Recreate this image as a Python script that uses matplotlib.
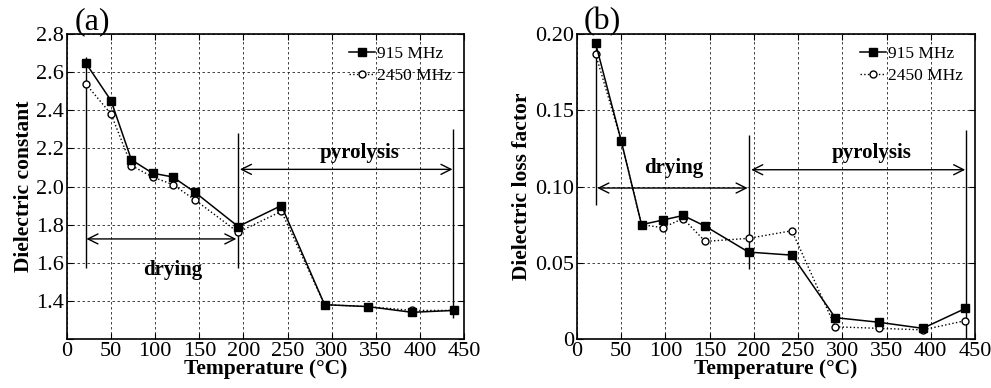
import numpy as np
import matplotlib
matplotlib.use("Agg")
import matplotlib.pyplot as plt

plt.rcParams['font.family'] = ['Liberation Serif', 'DejaVu Serif']
plt.rcParams['mathtext.fontset'] = 'stix'

# temperatures (deg C)
temp = [21, 50, 73, 97, 120, 145, 194, 243, 292, 341, 391, 439]

# (a) dielectric constant
eps_915 = [2.65, 2.45, 2.14, 2.07, 2.05, 1.97, 1.79, 1.90, 1.38, 1.37, 1.34, 1.35]
eps_2450 = [2.54, 2.38, 2.11, 2.05, 2.01, 1.93, 1.76, 1.87, 1.38, 1.37, 1.35, 1.35]

# (b) dielectric loss factor
loss_915 = [0.194, 0.130, 0.075, 0.078, 0.081, 0.074, 0.057, 0.055, 0.014, 0.011, 0.007, 0.020]
loss_2450 = [0.187, 0.130, 0.075, 0.073, 0.079, 0.064, 0.066, 0.071, 0.008, 0.007, 0.006, 0.012]

xticks = [0, 50, 100, 150, 200, 250, 300, 350, 400, 450]

fig = plt.figure(figsize=(9.91, 3.88), dpi=100)
ax1 = fig.add_axes([0.0676, 0.1263, 0.4006, 0.786])
ax2 = fig.add_axes([0.5822, 0.1263, 0.4016, 0.786])


def style(ax):
    ax.set_xlim(0, 450)
    ax.set_xticks(xticks)
    ax.grid(True, color='#222222', linestyle=(0, (3, 3)), linewidth=0.6)
    ax.tick_params(direction='in', top=True, right=True, labelsize=16, length=4, pad=2)
    for s in ax.spines.values():
        s.set_linewidth(1.2)
    ax.set_xlabel('Temperature (°C)', fontsize=15.5, fontweight='bold', labelpad=-1)


def series(ax, y1, y2):
    ax.plot(temp, y1, '-', color='black', lw=1.1, marker='s', ms=6,
            mfc='black', mec='black', label='915 MHz', zorder=4)
    ax.plot(temp, y2, ':', color='black', lw=1.0, marker='o', ms=5,
            mfc='white', mec='black', label='2450 MHz', zorder=3)
    ax.legend(loc='upper right', frameon=False, fontsize=12.5,
              handlelength=1.5, handletextpad=0.1, labelspacing=0.3,
              borderaxespad=0.3)


def span(ax, x0, x1, y, text, tx, ty):
    ax.annotate('', xy=(x0, y), xytext=(x1, y),
                arrowprops=dict(arrowstyle='<->', color='black', lw=1.0,
                                mutation_scale=18, shrinkA=0, shrinkB=0))
    ax.text(tx, ty, text, ha='center', va='center', fontsize=15, fontweight='bold')


# panel (a)
style(ax1)
series(ax1, eps_915, eps_2450)
ax1.set_ylim(1.2, 2.8)
ax1.set_yticks([1.2, 1.4, 1.6, 1.8, 2.0, 2.2, 2.4, 2.6, 2.8])
ax1.set_yticklabels(['', '1.4', '1.6', '1.8', '2.0', '2.2', '2.4', '2.6', '2.8'])
ax1.set_ylabel('Dielectric constant', fontsize=15.5, fontweight='bold', labelpad=2)
ax1.vlines([21], 1.57, 2.68, color='black', lw=1.0)
ax1.vlines([194], 1.57, 2.28, color='black', lw=1.0)
ax1.vlines([438], 1.31, 2.30, color='black', lw=1.0)
span(ax1, 22, 192, 1.725, 'drying', 120, 1.56)
span(ax1, 196, 437, 2.09, 'pyrolysis', 332, 2.175)
fig.text(0.093, 0.945, '(a)', fontsize=23, ha='center', va='center')

# panel (b)
style(ax2)
series(ax2, loss_915, loss_2450)
ax2.set_ylim(0, 0.2)
ax2.set_yticks([0, 0.05, 0.10, 0.15, 0.20])
ax2.set_yticklabels(['0', '0.05', '0.10', '0.15', '0.20'])
ax2.set_ylabel('Dielectric loss factor', fontsize=15.5, fontweight='bold', labelpad=2)
ax2.vlines([22], 0.088, 0.196, color='black', lw=1.0)
ax2.vlines([195], 0.046, 0.134, color='black', lw=1.0)
ax2.vlines([440], 0.0, 0.137, color='black', lw=1.0)
span(ax2, 23, 193, 0.099, 'drying', 110, 0.112)
span(ax2, 197, 439, 0.111, 'pyrolysis', 333, 0.122)
fig.text(0.608, 0.945, '(b)', fontsize=23, ha='center', va='center')

fig.savefig('out.png', dpi=100)
